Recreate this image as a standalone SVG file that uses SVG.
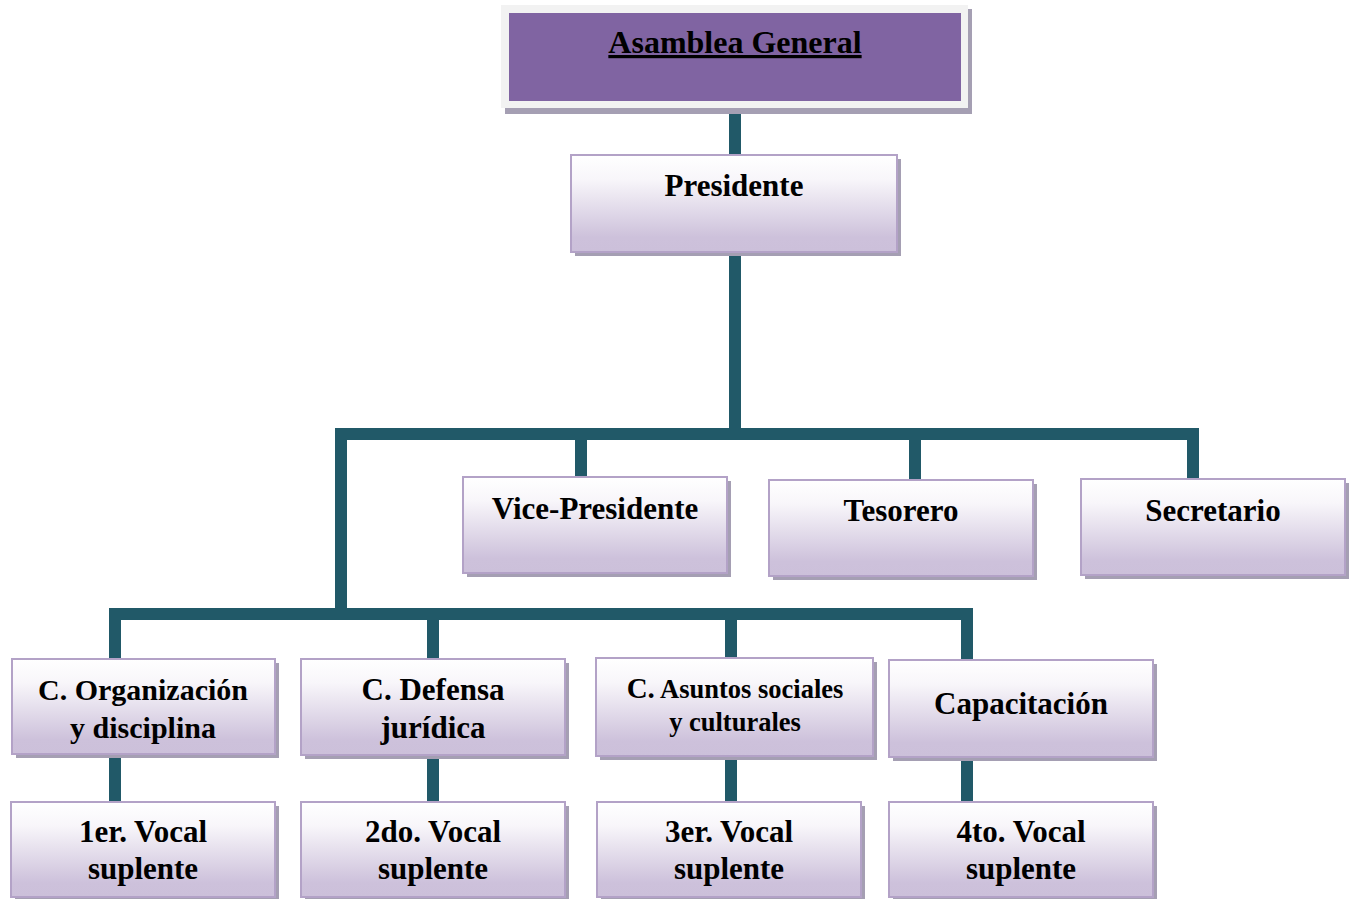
<svg xmlns="http://www.w3.org/2000/svg" width="1356" height="899" viewBox="0 0 1356 899">
<defs>
<linearGradient id="g" x1="0" y1="0" x2="0" y2="1">
<stop offset="0" stop-color="#ffffff"/>
<stop offset="0.25" stop-color="#f8f6fa"/>
<stop offset="0.85" stop-color="#cdc1db"/>
<stop offset="1" stop-color="#ccc0da"/>
</linearGradient>
<style>
.sh{fill:#a59fb3}
.bx{fill:url(#g);stroke:#b3a2c7;stroke-width:2}
.t{font-family:"Liberation Serif","Times New Roman",serif;font-weight:bold;fill:#000;text-anchor:middle}
.c{fill:none;stroke:#215968;stroke-width:12;stroke-linejoin:miter;stroke-linecap:butt}
</style>
</defs>
<rect width="1356" height="899" fill="#ffffff"/>
<g id="connectors">
<path class="c" d="M735,108 V155"/>
<path class="c" d="M735,252 V435"/>
<path class="c" d="M341,614 V434 H1193 V479"/>
<path class="c" d="M581,434 V477"/>
<path class="c" d="M915,434 V480"/>
<path class="c" d="M115,659 V614 H967 V660"/>
<path class="c" d="M433,614 V659"/>
<path class="c" d="M731,614 V658"/>
<path class="c" d="M115,754 V802"/>
<path class="c" d="M433,755 V802"/>
<path class="c" d="M731,756 V802"/>
<path class="c" d="M967,757 V802"/>
</g>
<g id="asamblea">
<rect x="505" y="9" width="467" height="105" fill="#a59fb3"/>
<rect x="501" y="5" width="467" height="103" fill="#f2f2f2"/>
<rect x="509" y="13" width="452" height="88" fill="#8064a2"/>
<text class="t" x="735" y="53" font-size="32" text-decoration="underline">Asamblea General</text>
</g>
<g id="presidente">
<rect class="sh" x="575" y="159" width="326" height="97"/>
<rect class="bx" x="571" y="155" width="326" height="97"/>
<text class="t" x="734" y="196" font-size="31">Presidente</text>
</g>
<g id="vicepresidente">
<rect class="sh" x="467" y="481" width="264" height="96"/>
<rect class="bx" x="463" y="477" width="264" height="96"/>
<text class="t" x="595" y="519" font-size="31">Vice-Presidente</text>
</g>
<g id="tesorero">
<rect class="sh" x="773" y="484" width="264" height="96"/>
<rect class="bx" x="769" y="480" width="264" height="96"/>
<text class="t" x="901" y="521" font-size="31">Tesorero</text>
</g>
<g id="secretario">
<rect class="sh" x="1085" y="483" width="264" height="96"/>
<rect class="bx" x="1081" y="479" width="264" height="96"/>
<text class="t" x="1213" y="521" font-size="31">Secretario</text>
</g>
<g id="organizacion">
<rect class="sh" x="16" y="663" width="263" height="95"/>
<rect class="bx" x="12" y="659" width="263" height="95"/>
<text class="t" x="143" y="700" font-size="30">C. Organización</text>
<text class="t" x="143" y="738" font-size="30">y disciplina</text>
</g>
<g id="defensa">
<rect class="sh" x="305" y="663" width="264" height="96"/>
<rect class="bx" x="301" y="659" width="264" height="96"/>
<text class="t" x="433" y="700" font-size="31">C. Defensa</text>
<text class="t" x="433" y="738" font-size="31">jurídica</text>
</g>
<g id="asuntos">
<rect class="sh" x="600" y="662" width="277" height="98"/>
<rect class="bx" x="596" y="658" width="277" height="98"/>
<text class="t" x="735" y="698" font-size="26.5"><tspan font-size="29">C.</tspan> Asuntos sociales</text>
<text class="t" x="735" y="731" font-size="26.5">y culturales</text>
</g>
<g id="capacitacion">
<rect class="sh" x="893" y="664" width="264" height="97"/>
<rect class="bx" x="889" y="660" width="264" height="97"/>
<text class="t" x="1021" y="714" font-size="31">Capacitación</text>
</g>
<g id="vocal1">
<rect class="sh" x="15" y="806" width="264" height="95"/>
<rect class="bx" x="11" y="802" width="264" height="95"/>
<text class="t" x="143" y="842" font-size="31">1er. Vocal</text>
<text class="t" x="143" y="879" font-size="31">suplente</text>
</g>
<g id="vocal2">
<rect class="sh" x="305" y="806" width="264" height="95"/>
<rect class="bx" x="301" y="802" width="264" height="95"/>
<text class="t" x="433" y="842" font-size="31">2do. Vocal</text>
<text class="t" x="433" y="879" font-size="31">suplente</text>
</g>
<g id="vocal3">
<rect class="sh" x="601" y="806" width="264" height="95"/>
<rect class="bx" x="597" y="802" width="264" height="95"/>
<text class="t" x="729" y="842" font-size="31">3er. Vocal</text>
<text class="t" x="729" y="879" font-size="31">suplente</text>
</g>
<g id="vocal4">
<rect class="sh" x="893" y="806" width="264" height="95"/>
<rect class="bx" x="889" y="802" width="264" height="95"/>
<text class="t" x="1021" y="842" font-size="31">4to. Vocal</text>
<text class="t" x="1021" y="879" font-size="31">suplente</text>
</g>
</svg>
